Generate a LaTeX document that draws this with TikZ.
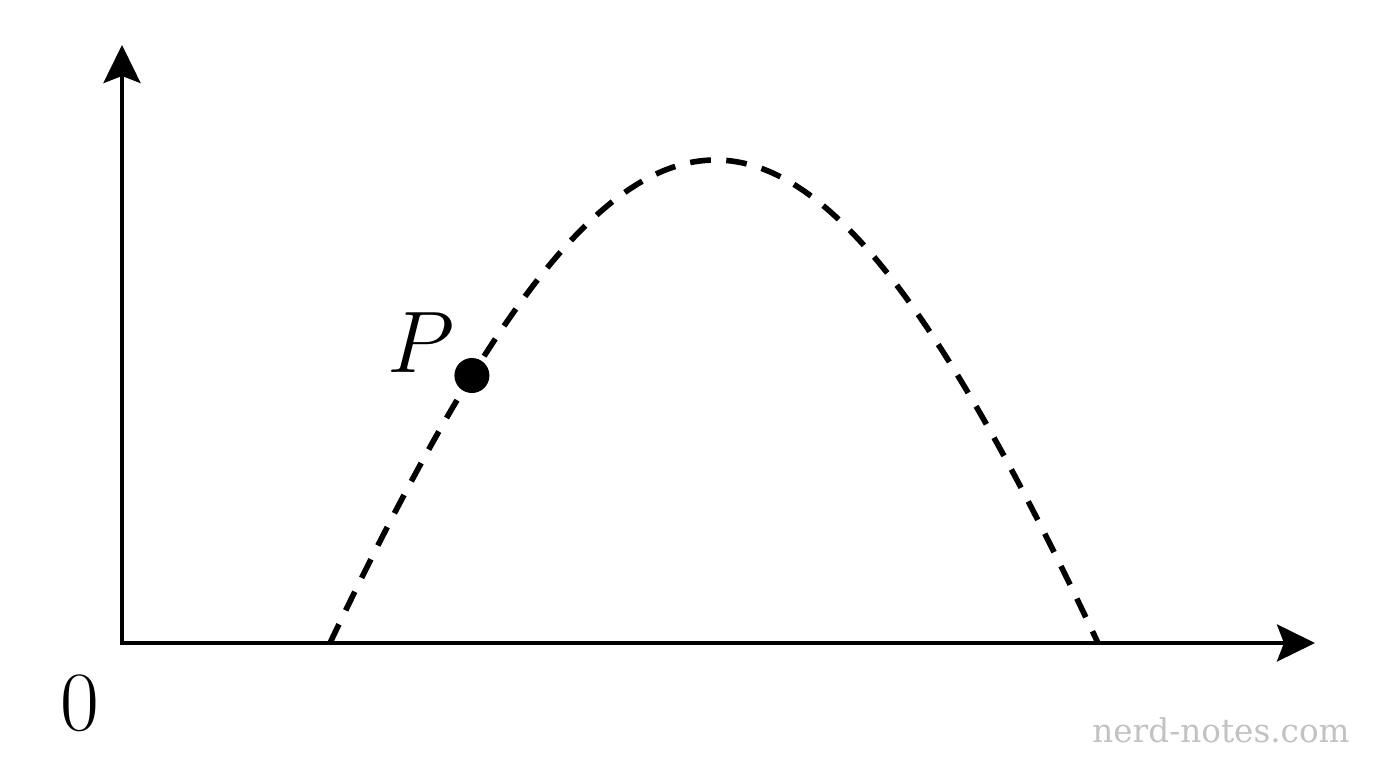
\documentclass[tikz,border=0pt]{standalone}
\usepackage{fontspec}
\newfontfamily\wmfont{DejaVu Serif}
\usetikzlibrary{arrows.meta,positioning}

\begin{document}
\begin{tikzpicture}[
  axis/.style={line width=1.15pt, line join=miter,
    {Stealth[length=0.38cm,width=0.37cm,inset=0.07cm]}-{Stealth[length=0.38cm,width=0.37cm,inset=0.07cm]}},
  trajectory/.style={line width=1.6pt, dash pattern=on 5.9pt off 4.4pt},
  dot/.style={circle, fill, inner sep=0pt, minimum size=0.35cm},
  lbl/.style={inner sep=0pt, font=\fontsize{24}{28}\selectfont}
]
\useasboundingbox (0,0) rectangle (13.76,7.68);
\coordinate (O) at (1.22,1.25);
\coordinate (ytop) at (1.22,7.23);
\coordinate (xend) at (13.15,1.25);
\coordinate (launch) at (3.30,1.25);
\coordinate (land) at (10.98,1.25);

\draw[axis] (ytop) -- (O) -- (xend);
\draw[trajectory] (launch) .. controls (6.37,7.69) and (7.95,7.69) .. (land)
  node[pos=0.166, dot] (P) {};

\node[lbl, above left=-0.12cm and 0.02cm of P] (Plbl) {$P$};
\node[lbl, below left=0.31cm and 0.22cm of O] (Olbl) {0};
\node[anchor=base, text=black!24, font=\wmfont\fontsize{9.3}{11}\selectfont] (wm) at (12.21,0.25) {nerd-notes.com};
\end{tikzpicture}
\end{document}
